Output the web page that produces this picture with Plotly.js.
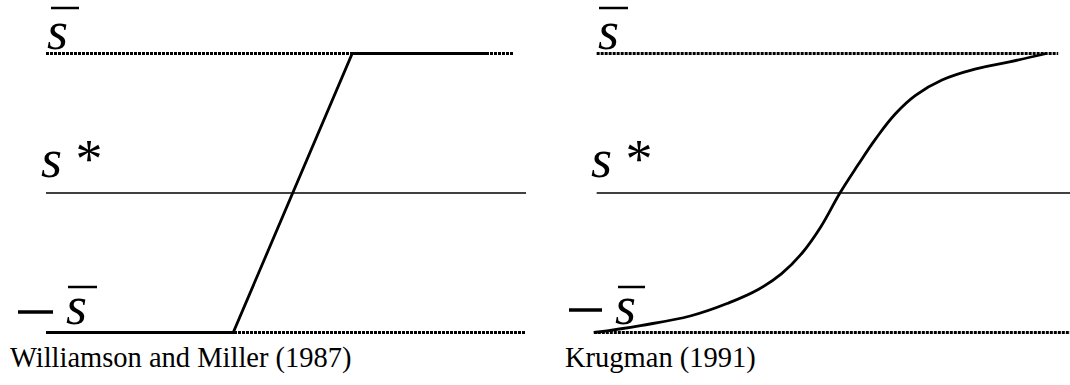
<!DOCTYPE html>
<html>
<head>
<meta charset="utf-8">
<script src="https://cdn.plot.ly/plotly-3.0.1.min.js"></script>
<style>html,body{margin:0;padding:0;background:#fff;}#chart{width:1070px;height:385px;}</style>
</head>
<body>
<div id="chart"></div>
<script>
// ---- data ----
const bandLevels = [-1, 0, 1];                 // -s̄ , s*, s̄
const panelTitles = ['Williamson and Miller (1987)', 'Krugman (1991)'];

// Williamson & Miller (1987): piecewise-linear path (fundamental on x, rate on y)
const wmX = [0.2, 39.0, 63.8, 91.7];
const wmY = [-1, -1, 1, 1];

// Krugman (1991): S-shaped curve
const krX = [0, 9.9, 20.6, 28.4, 34.9, 39.7, 44.1, 48.1, 52.1, 55.9, 59.7, 63.9, 68.1, 73.7, 80.9, 88.0, 95.8];
const krY = [-1.0, -0.95, -0.88, -0.79, -0.69, -0.58, -0.43, -0.24, 0.0, 0.20, 0.39, 0.57, 0.70, 0.81, 0.89, 0.94, 1.0];

// extents of the band lines in each panel: [start, end]
const leftUpper = [0, 97.3], leftMid = [0, 100], leftLower = [0, 100];
const rightUpper = [0.6, 98.3], rightMid = [0.6, 100.8], rightLower = [0, 100.8];

// ---- build ----
const dotted = {color: '#000', width: 3, dash: '3px,1px'};
const thin = {color: '#000', width: 1.3};
const thick = {color: '#000', width: 2.8};

function hline(ext, y, line, xa, ya) {
  return {x: ext, y: [y, y], mode: 'lines', line: line, xaxis: xa, yaxis: ya, hoverinfo: 'skip', showlegend: false};
}

const traces = [
  hline(leftUpper, bandLevels[2], dotted, 'x', 'y'),
  hline(leftMid, bandLevels[1], thin, 'x', 'y'),
  hline(leftLower, bandLevels[0], dotted, 'x', 'y'),
  {x: wmX, y: wmY, mode: 'lines', line: thick, xaxis: 'x', yaxis: 'y', showlegend: false},
  hline(rightUpper, bandLevels[2], dotted, 'x2', 'y2'),
  hline(rightMid, bandLevels[1], thin, 'x2', 'y2'),
  hline(rightLower, bandLevels[0], dotted, 'x2', 'y2'),
  {x: krX, y: krY, mode: 'lines', line: Object.assign({shape: 'spline', smoothing: 1.2}, thick), xaxis: 'x2', yaxis: 'y2', showlegend: false}
];

const W = 1070, H = 385;
const px = v => v / W, py = v => 1 - v / H;
const serif = '"Times New Roman", "Liberation Serif", "DejaVu Serif", serif';

const hidden = {visible: false, showgrid: false, zeroline: false, fixedrange: true};
const yDom = [0.100130, 0.897273];

function sym(txt, xPix, yMidPix, size) {
  return {text: txt, xref: 'paper', yref: 'paper', x: px(xPix), y: py(yMidPix),
          xanchor: 'left', yanchor: 'middle', showarrow: false,
          font: {family: serif, size: size, color: '#000'}};
}

const annotations = [
  sym('<i>s</i>', 45, 31, 54),
  sym('<i>s</i> *', 39, 159, 54),
  sym('<i>s</i>', 64, 306, 54),
  sym('<i>s</i>', 596, 31, 54),
  sym('<i>s</i> *', 589, 159, 54),
  sym('<i>s</i>', 613, 306, 54),
  sym(panelTitles[0], 8, 358, 28.5),
  sym(panelTitles[1], 563, 358, 28.5)
];

function seg(x0, x1, y, w) {
  return {type: 'line', xref: 'paper', yref: 'paper', x0: px(x0), x1: px(x1), y0: py(y), y1: py(y),
          line: {color: '#000', width: w}};
}
const shapes = [
  seg(51, 79, 8, 2.5), seg(68, 97, 287, 2.5), seg(18, 53, 312, 3.5),
  seg(599, 628, 8, 2.5), seg(618, 645, 287, 2.5), seg(569, 602, 310, 3.5)
];

const layout = {
  width: W, height: H,
  font: {family: serif},
  margin: {l: 0, r: 0, t: 0, b: 0, pad: 0},
  paper_bgcolor: '#fff', plot_bgcolor: 'rgba(0,0,0,0)',
  showlegend: false,
  xaxis: Object.assign({domain: [0.02056, 0.51402], range: [-5, 105]}, hidden),
  yaxis: Object.assign({domain: yDom, range: [-1.1, 1.1]}, hidden),
  xaxis2: Object.assign({domain: [0.5329, 1], range: [-5, 100.8], anchor: 'y2'}, hidden),
  yaxis2: Object.assign({domain: yDom, range: [-1.1, 1.1], anchor: 'x2'}, hidden),
  annotations: annotations,
  shapes: shapes
};

Plotly.newPlot('chart', traces, layout, {staticPlot: true, displayModeBar: false});
</script>
</body>
</html>
